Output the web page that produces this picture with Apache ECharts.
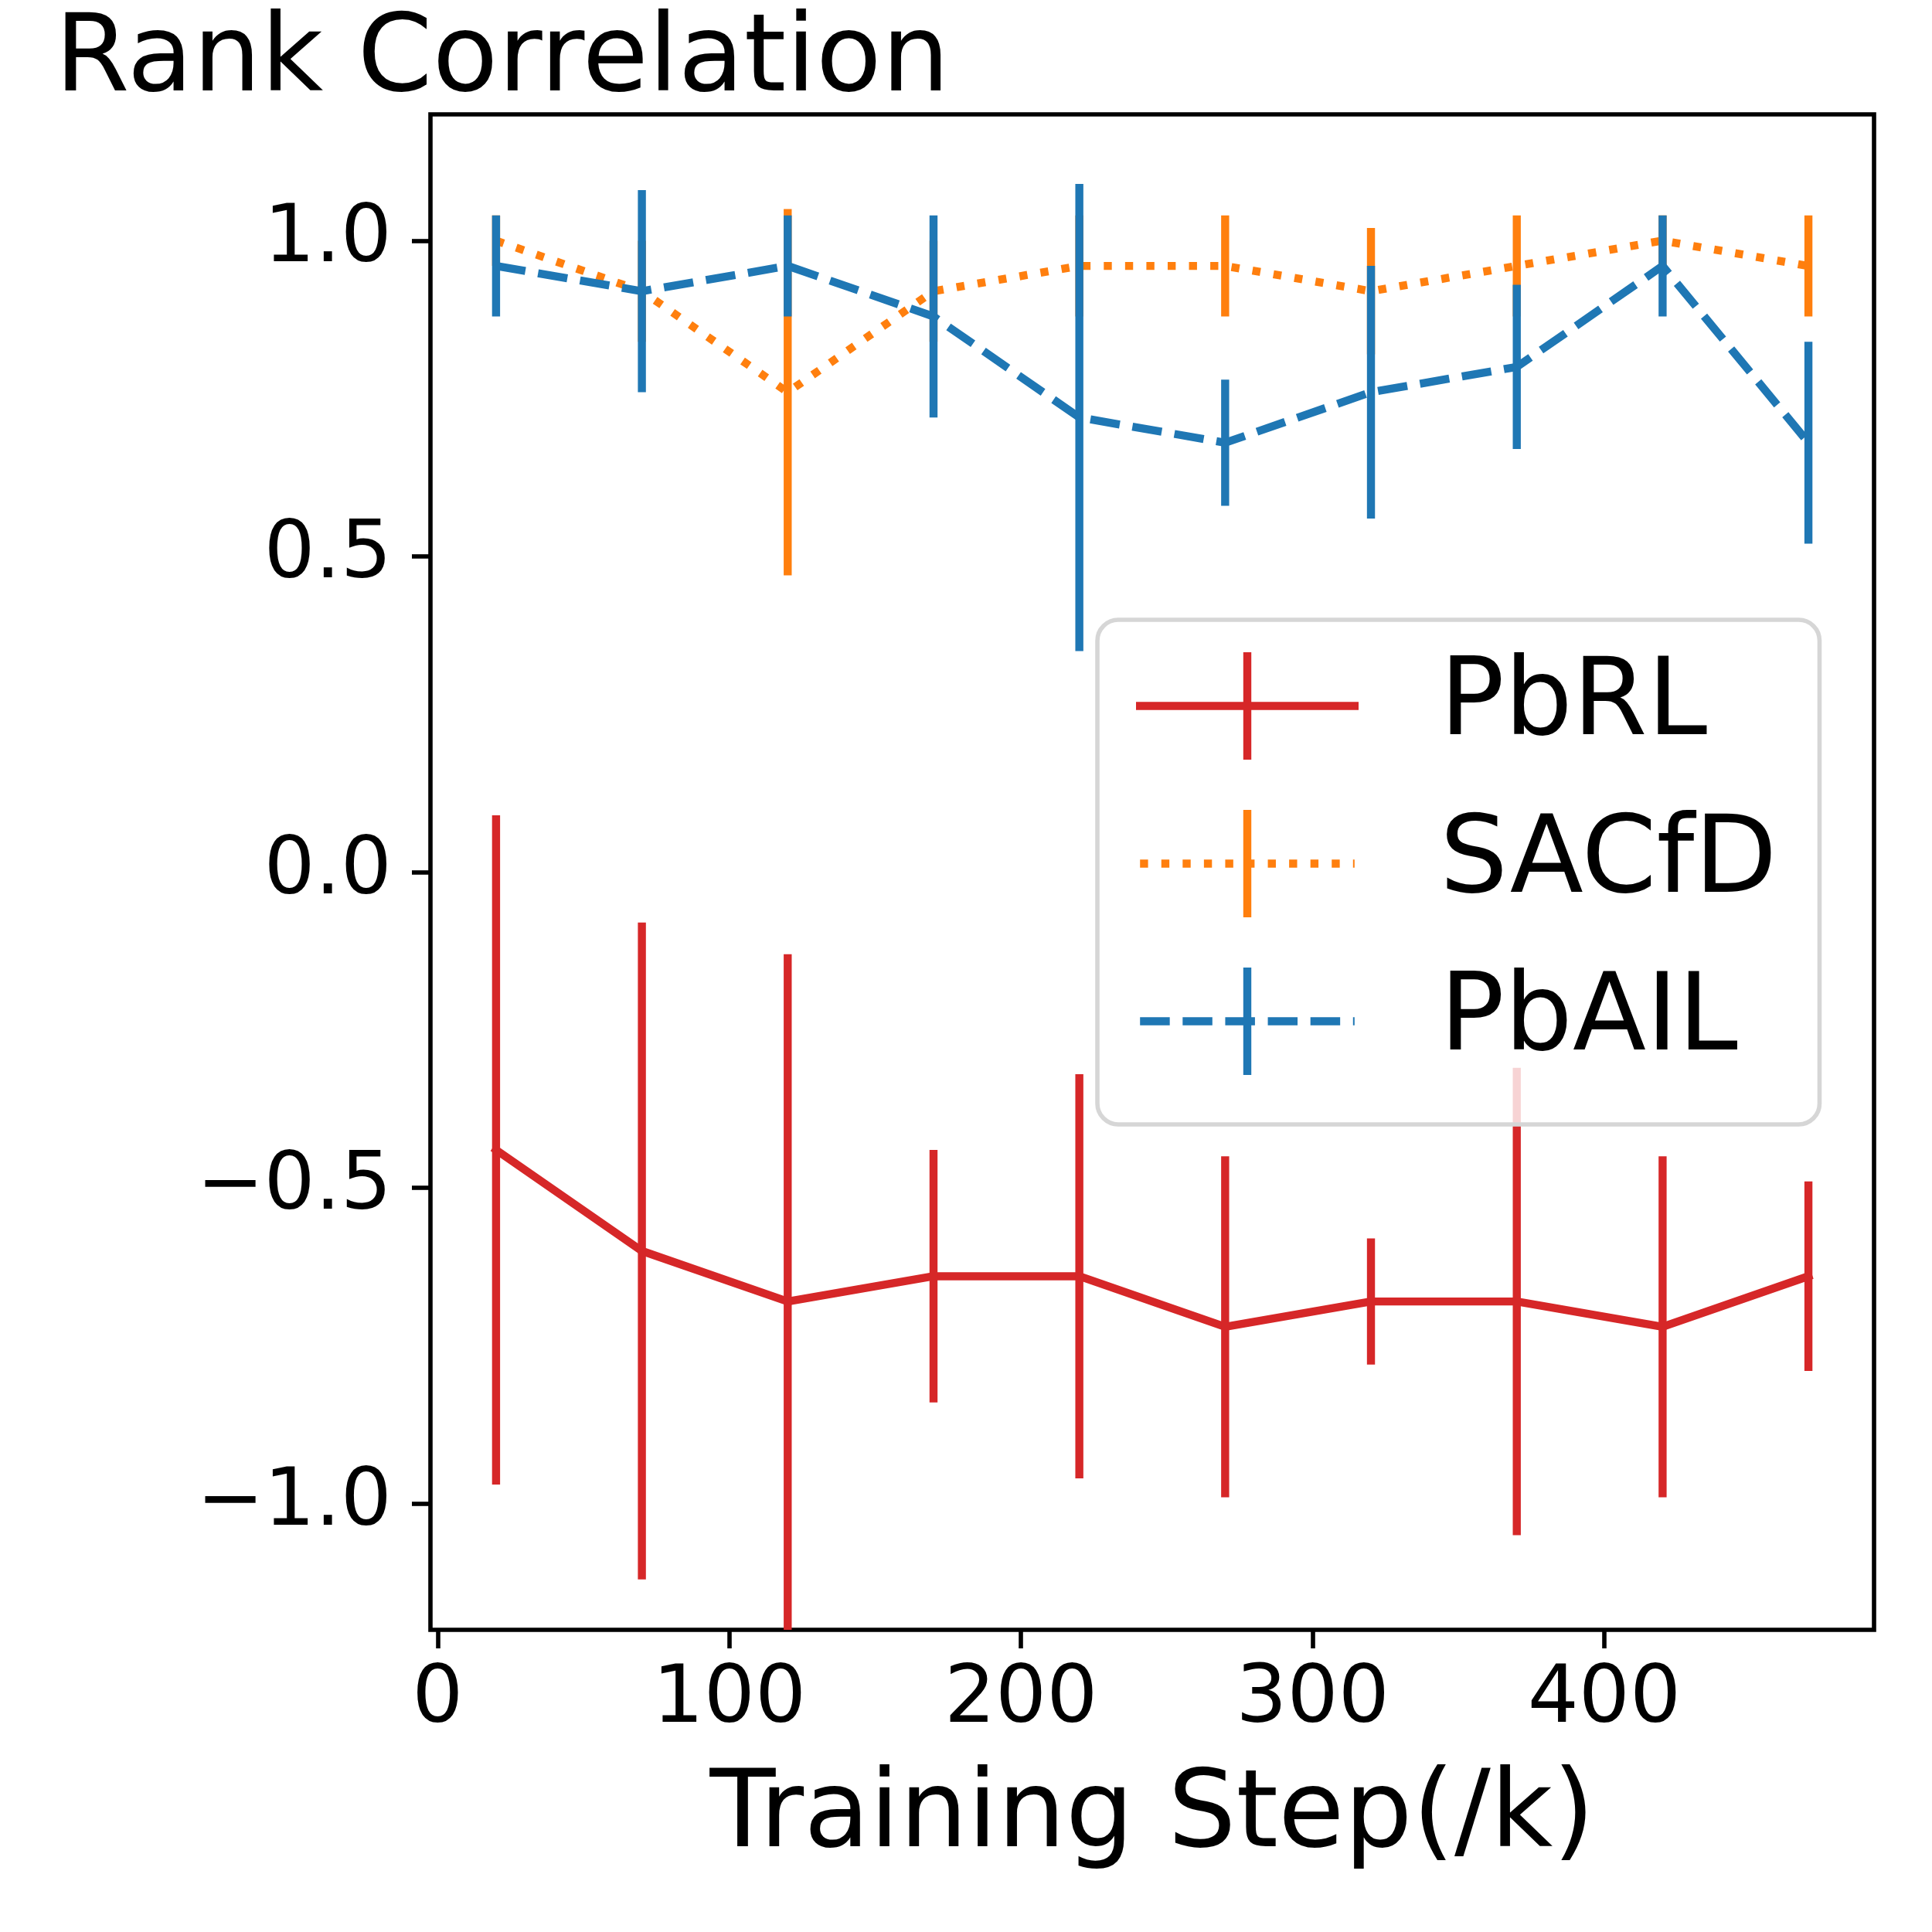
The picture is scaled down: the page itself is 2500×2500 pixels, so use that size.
<!DOCTYPE html>
<html>
<head>
<meta charset="utf-8">
<script src="https://cdn.jsdelivr.net/npm/echarts@6/dist/echarts.min.js"></script>
<style>html,body{margin:0;padding:0;background:#fff}#c{width:2500px;height:2500px}</style>
</head>
<body>
<div id="c"></div>
<script>
// ---- data ----
const steps = [20, 70, 120, 170, 220, 270, 320, 370, 420, 470];
const pbrlMean = [-0.44, -0.60, -0.68, -0.64, -0.64, -0.72, -0.68, -0.68, -0.72, -0.64];
const pbrlErr = [0.53, 0.52, 0.55, 0.20, 0.32, 0.27, 0.10, 0.37, 0.27, 0.15];
const sacfdMean = [1.00, 0.92, 0.76, 0.92, 0.96, 0.96, 0.92, 0.96, 1.00, 0.96];
const sacfdErr = [0.04, 0.08, 0.29, 0.08, 0.08, 0.08, 0.10, 0.08, 0.04, 0.08];
const pbailMean = [0.96, 0.92, 0.96, 0.88, 0.72, 0.68, 0.76, 0.80, 0.96, 0.68];
const pbailErr = [0.08, 0.16, 0.08, 0.16, 0.37, 0.10, 0.20, 0.13, 0.08, 0.16];
const seriesNames = ['PbRL', 'SACfD', 'PbAIL'];
const xTicks = [0, 100, 200, 300, 400];
const yTicks = [-1.0, -0.5, 0.0, 0.5, 1.0];
const titleText = 'Rank Correlation';
const xName = 'Training Step(/k)';

// ---- styles ----
const FONT = 'DejaVu Sans';
const LW = 10.4;
const COLORS = { PbRL: '#d62728', SACfD: '#ff7f0e', PbAIL: '#1f77b4' };
const DASH = { PbRL: 'solid', SACfD: [LW, 1.65 * LW], PbAIL: [3.7 * LW, 1.6 * LW] };
const LEG_W = 288, LEG_H = 139;

function iconPath(pattern, W, H, lw) {
  const cy = H / 2, half = lw / 2;
  const f = v => (+v.toFixed(3));
  const rect = (x, y, w, h) => `M${f(x)},${f(y)}h${f(w)}v${f(h)}h${f(-w)}z`;
  let p = '';
  p += rect(0, cy - 0.005, 0.01, 0.01) + rect(W - 0.01, cy - 0.005, 0.01, 0.01);
  if (pattern === 'solid') {
    p += rect(0, cy - half, W, lw);
  } else {
    const x0 = half, x1 = W - half, on = pattern[0], off = pattern[1];
    for (let s = x0; s < x1; s += on + off) {
      const e = Math.min(s + on, x1);
      p += rect(s, cy - half, e - s, lw);
    }
  }
  p += rect(W / 2 - half, 0, lw, H);
  return 'path://' + p;
}

function lineSeries(name, mean, z) {
  return {
    type: 'line', name: name, z: z, silent: true, animation: false,
    data: steps.map((x, i) => [x, mean[i]]),
    symbol: 'none', showSymbol: false,
    itemStyle: { color: COLORS[name] },
    lineStyle: { color: COLORS[name], width: LW, type: DASH[name],
                 cap: DASH[name] === 'solid' ? 'square' : 'butt', join: 'round' }
  };
}
function errSeries(name, mean, err, z) {
  return {
    type: 'custom', name: name + ' error', z: z, silent: true, animation: false,
    data: steps.map((x, i) => [x, mean[i], err[i]]),
    encode: { x: 0, y: 1 },
    renderItem: function (params, api) {
      const x = api.value(0), m = api.value(1), e = api.value(2);
      const top = api.coord([x, m + e]);
      const bot = api.coord([x, m - e]);
      const cs = params.coordSys;
      const y1 = Math.max(top[1], cs.y);
      const y2 = Math.min(bot[1], cs.y + cs.height);
      return { type: 'line', shape: { x1: top[0], y1: y1, x2: top[0], y2: y2 },
               style: { stroke: COLORS[name], lineWidth: LW, lineCap: 'butt' } };
    }
  };
}

const chart = echarts.init(document.getElementById('c'), null, { renderer: 'canvas', width: 2500, height: 2500 });
const option = {
  backgroundColor: '#ffffff',
  animation: false,
  title: {
    text: titleText, left: 71, top: 11, padding: 0,
    textStyle: { fontFamily: FONT, fontSize: 139, fontWeight: 'normal', color: '#000' }
  },
  grid: {
    left: 557, top: 148, right: 75, bottom: 391,
    show: true, borderColor: '#000', borderWidth: 5.6, backgroundColor: 'transparent'
  },
  xAxis: {
    type: 'value', min: -2.5, max: 492.5,
    axisLine: { show: false, onZero: false },
    splitLine: { show: false },
    axisTick: { show: true, length: 24, lineStyle: { color: '#000', width: 5.6 }, customValues: xTicks },
    axisLabel: { customValues: xTicks, margin: 40, fontSize: 104, fontFamily: FONT, color: '#000',
                 formatter: v => String(v) },
    name: xName, nameLocation: 'middle', nameGap: 174,
    nameTextStyle: { fontSize: 139, fontFamily: FONT, color: '#000' }
  },
  yAxis: {
    type: 'value', min: -1.2, max: 1.2,
    axisLine: { show: false, onZero: false },
    splitLine: { show: false },
    axisTick: { show: true, length: 24, lineStyle: { color: '#000', width: 5.6 }, customValues: yTicks },
    axisLabel: { customValues: yTicks, margin: 50, fontSize: 104, fontFamily: FONT, color: '#000',
                 formatter: v => (v < 0 ? '\u2212' : '') + Math.abs(v).toFixed(1) }
  },
  legend: {
    orient: 'vertical', left: 1420, top: 802, z: 20, selectedMode: false,
    padding: [42, 55, 64, 50], itemGap: 204 - LEG_H, itemWidth: LEG_W, itemHeight: LEG_H,
    backgroundColor: 'rgba(255,255,255,0.8)', borderColor: '#d6d6d6', borderWidth: 5.6, borderRadius: 27,
    itemStyle: { borderWidth: 0 },
    textStyle: { fontFamily: FONT, fontSize: 139, color: '#000', lineHeight: LEG_H, padding: [0, 0, 0, 100] },
    data: seriesNames.map(n => ({ name: n, icon: iconPath(DASH[n], LEG_W, LEG_H, LW) }))
  },
  series: [
    lineSeries('PbRL', pbrlMean, 2), errSeries('PbRL', pbrlMean, pbrlErr, 3),
    lineSeries('SACfD', sacfdMean, 4), errSeries('SACfD', sacfdMean, sacfdErr, 5),
    lineSeries('PbAIL', pbailMean, 6), errSeries('PbAIL', pbailMean, pbailErr, 7)
  ]
};
chart.setOption(option);
</script>
</body>
</html>
